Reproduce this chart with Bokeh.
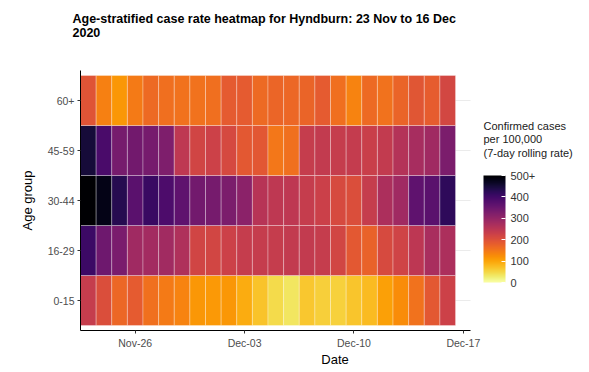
import pandas as pd
from bokeh.plotting import figure
from bokeh.models import (ColumnDataSource, LinearColorMapper, ColorBar, FixedTicker,
                          DatetimeTickFormatter, Range1d, Label, Title)
from bokeh.palettes import Inferno256
from bokeh.embed import file_html
from bokeh.resources import INLINE

# ---- data ----
dates = pd.date_range("2020-11-23", "2020-12-16", freq="D")
age_groups = ["0-15", "16-29", "30-44", "45-59", "60+"]
rate_0_15 = [235, 205, 168, 185, 158, 145, 135, 115, 112, 115, 92, 70,
             45, 35, 65, 58, 55, 68, 78, 105, 125, 155, 188, 225]
rate_16_29 = [405, 345, 332, 285, 280, 283, 265, 220, 218, 225, 235, 235,
              235, 240, 240, 235, 218, 188, 175, 210, 222, 248, 272, 268]
rate_30_44 = [540, 480, 430, 370, 410, 385, 365, 340, 335, 330, 310, 255,
              245, 245, 235, 228, 210, 205, 235, 268, 285, 365, 370, 420]
rate_45_59 = [450, 390, 335, 340, 335, 325, 245, 220, 225, 212, 188, 190,
              150, 158, 235, 240, 235, 238, 230, 240, 258, 275, 285, 330]
rate_60p = [195, 140, 115, 145, 165, 160, 155, 155, 160, 185, 185, 165,
            170, 168, 172, 185, 160, 135, 165, 155, 172, 192, 182, 215]
rates = {"0-15": rate_0_15, "16-29": rate_16_29, "30-44": rate_30_44,
         "45-59": rate_45_59, "60+": rate_60p}
tick_dates = ["2020-11-26", "2020-12-03", "2020-12-10", "2020-12-17"]
cb_ticks = [0, 100, 200, 300, 400, 500]
cb_title_lines = ["Confirmed cases", " per 100,000", "(7-day rolling rate)"]
title_text = "Age-stratified case rate heatmap for Hyndburn: 23 Nov to 16 Dec\n2020"

# categorical rows -> row centres 0.5, 1.5, ...
row_pos = {g: i + 0.5 for i, g in enumerate(age_groups)}
xs, ys, vals = [], [], []
for g in age_groups:
    for d, v in zip(dates, rates[g]):
        xs.append(d)
        ys.append(row_pos[g])
        vals.append(v)
src = ColumnDataSource(dict(date=xs, row=ys, rate=vals))

palette = list(reversed(Inferno256))
mapper = LinearColorMapper(palette=palette, low=0, high=500, high_color=Inferno256[0])

FONT = "Liberation Sans"

# panel (axis) extent in time, and pixel scale of the heat-map panel
x_start = pd.Timestamp("2020-11-22 12:00")
x_end = pd.Timestamp("2020-12-17 11:00")
PANEL_W, FRAME_H = 390, 260
ms_per_px = (x_end - x_start).total_seconds() * 1000 / PANEL_W
x0_ms = x_start.value // 10**6
x1_ms = x_end.value // 10**6
FRAME_W = 589 - 80            # frame extends to the right edge (room for the legend text)
frame_end_ms = x0_ms + FRAME_W * ms_per_px
y_lo, y_hi = -0.1, len(age_groups) + 0.1

p = figure(width=589, height=372, output_backend="svg", toolbar_location=None,
           x_axis_type="datetime",
           x_range=Range1d(x0_ms, frame_end_ms), y_range=Range1d(y_lo, y_hi),
           min_border_left=80, min_border_right=0, min_border_top=70, min_border_bottom=42,
           title=None)

# titles: an empty spacer next to the frame, then the two-line title above it
p.add_layout(Title(text=" ", text_font_size="1px", standoff=25), "above")
p.add_layout(Title(text=title_text, text_font=FONT, text_font_size="12.5px",
                   text_font_style="bold", text_line_height=1.05, align="left",
                   offset=-8, standoff=4, text_color="black"), "above")

# horizontal grid lines only across the heat-map panel
p.segment(x0=[x0_ms] * len(age_groups), x1=[x1_ms] * len(age_groups),
          y0=list(row_pos.values()), y1=list(row_pos.values()),
          line_color="#ebebeb", line_width=1)

p.rect(x="date", y="row", width=86400000, height=1, source=src,
       fill_color={"field": "rate", "transform": mapper},
       line_color="white", line_alpha=0.3, line_width=1)

p.outline_line_color = None
p.xgrid.visible = False
p.ygrid.visible = False

p.xaxis.ticker = FixedTicker(ticks=[pd.Timestamp(t).value // 10**6 for t in tick_dates])
fmt = "%b-%d"
p.xaxis.formatter = DatetimeTickFormatter(days=fmt, months=fmt, hours=fmt, years=fmt)
p.xaxis.bounds = (x0_ms, x1_ms)
p.yaxis.ticker = FixedTicker(ticks=list(row_pos.values()))
p.yaxis.major_label_overrides = {v: g for g, v in row_pos.items()}

for ax in (p.xaxis[0], p.yaxis[0]):
    ax.axis_line_color = "black"
    ax.axis_line_width = 1
    ax.major_tick_line_color = "#333333"
    ax.major_tick_out = 3
    ax.major_tick_in = 0
    ax.minor_tick_line_color = None
    ax.major_label_text_font = FONT
    ax.major_label_text_font_size = "10.5px"
    ax.major_label_text_color = "#4d4d4d"
    ax.axis_label_text_font = FONT
    ax.axis_label_text_font_size = "13px"
    ax.axis_label_text_font_style = "normal"
    ax.axis_label_text_color = "black"
    ax.major_label_standoff = 3

p.xaxis.axis_label = "Date"
p.yaxis.axis_label = "Age group"
p.xaxis.axis_label_standoff = 0
p.yaxis.axis_label_standoff = 10

cb = ColorBar(color_mapper=mapper, ticker=FixedTicker(ticks=cb_ticks),
              major_label_overrides={500: "500+"},
              width=22, height=107, location=(403, 48), padding=0, margin=0,
              major_label_text_font=FONT, major_label_text_font_size="11px",
              major_label_text_color="#333333", label_standoff=5,
              major_tick_line_color="white", major_tick_in=4, major_tick_out=0,
              bar_line_color=None, border_line_color=None, background_fill_color=None)
p.add_layout(cb, "center")

# colour-bar title (inside the widened frame, right of the heat map)
units_per_px = (y_hi - y_lo) / FRAME_H
lab_x = x1_ms + 13 * ms_per_px
for txt, py in zip(cb_title_lines, [125, 138.5, 152]):
    p.add_layout(Label(x=lab_x, y=y_hi - (py - 70) * units_per_px, text=txt,
                       text_font=FONT, text_font_size="11px",
                       text_color="#1a1a1a", text_align="left", text_baseline="middle"))

open("out.html", "w").write(file_html(p, INLINE))
